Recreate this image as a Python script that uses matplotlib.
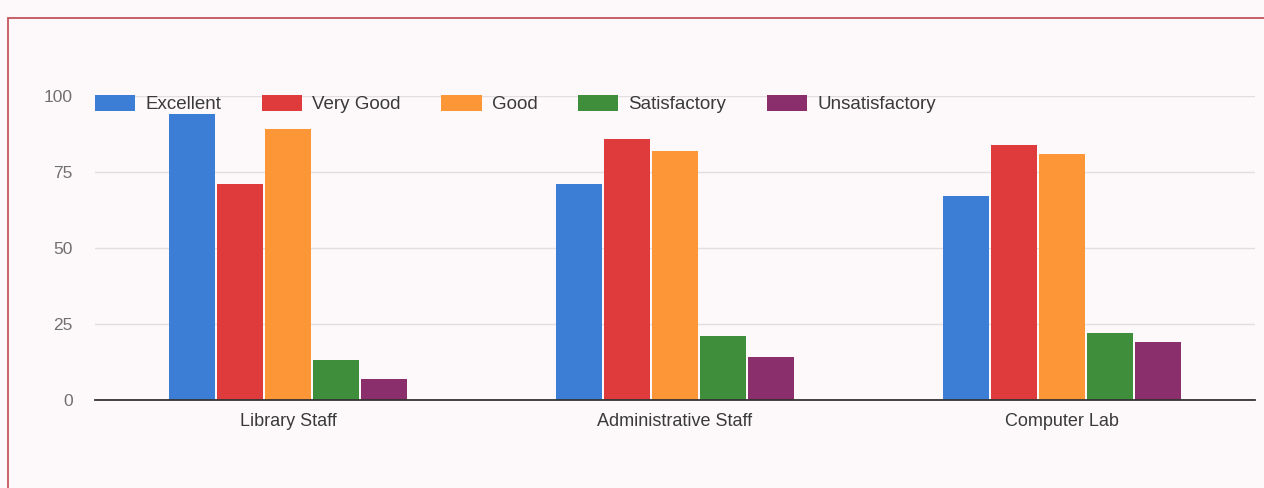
import numpy as np
import matplotlib
matplotlib.use("Agg")
import matplotlib.pyplot as plt
from matplotlib.patches import Rectangle

plt.rcParams['font.family'] = ['Liberation Sans', 'DejaVu Sans']

# datos
categorias = ['Library Staff', 'Administrative Staff', 'Computer Lab']
series = ['Excellent', 'Very Good', 'Good', 'Satisfactory', 'Unsatisfactory']
excellent = [94, 71, 67]
very_good = [71, 86, 84]
good = [89, 82, 81]
satisfactory = [13, 21, 22]
unsatisfactory = [7, 14, 19]
valores = [excellent, very_good, good, satisfactory, unsatisfactory]
colores = ['#3c7ed6', '#df3b3d', '#fd9637', '#3f8e3b', '#8b2f6c']
yticks = [0, 25, 50, 75, 100]

fondo = '#fdf9fb'
fig = plt.figure(figsize=(12.64, 4.88), dpi=100, facecolor=fondo)
ax = fig.add_axes([95 / 1264, 1 - 400 / 488, 1160 / 1264, 304 / 488])
ax.set_facecolor(fondo)

# marco rojo del recorte
fig.patches.append(Rectangle((8 / 1264, -0.05), 1.1, 1 - 18 / 488 + 0.05,
                             transform=fig.transFigure, fill=False,
                             edgecolor='#c4545e', linewidth=1.3))

x = np.arange(len(categorias))
ancho = 0.124
for i, (nombre, vals) in enumerate(zip(series, valores)):
    ax.bar(x + (i - 2) * ancho, vals, width=ancho - 0.005, color=colores[i],
           label=nombre, zorder=2)

ax.set_xlim(-0.5, 2.5)
ax.set_ylim(0, 100)
ax.set_yticks(yticks)
ax.set_yticklabels([str(v) for v in yticks], color='#707070', fontsize=12.5)
ax.set_xticks(x)
ax.set_xticklabels(categorias, color='#3a3a3a', fontsize=13)
ax.tick_params(axis='both', length=0)
ax.tick_params(axis='y', pad=16)
ax.tick_params(axis='x', pad=9)
ax.grid(axis='y', color='#e3dfe1', linewidth=1, zorder=0)
for lado in ['top', 'right', 'left']:
    ax.spines[lado].set_visible(False)
ax.spines['bottom'].set_color('#333333')
ax.spines['bottom'].set_linewidth(1.3)
ax.spines['bottom'].set_zorder(3)

ax.legend(loc='center left', bbox_to_anchor=(95 / 1264, 1 - 104 / 488),
          bbox_transform=fig.transFigure, borderpad=0, borderaxespad=0,
          ncol=5, frameon=False, fontsize=13.5, handlelength=2.15,
          handleheight=0.95, columnspacing=2.15, handletextpad=0.55,
          labelcolor='#3a3a3a')

fig.savefig('out.png', dpi=100, facecolor=fondo)
